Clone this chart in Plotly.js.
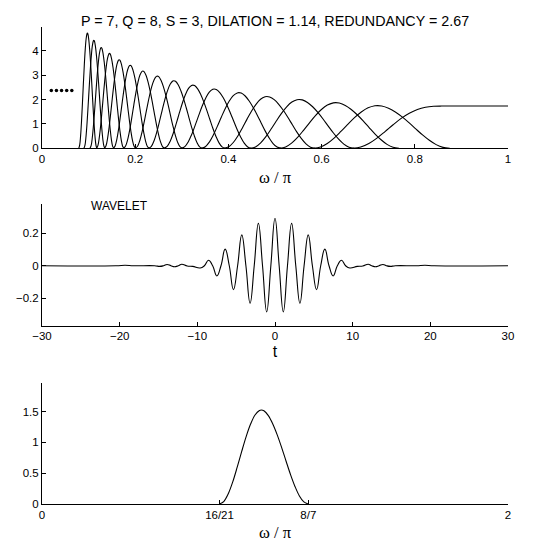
<!DOCTYPE html>
<html>
<head>
<meta charset="utf-8">
<script src="https://cdn.plot.ly/plotly-3.0.1.min.js"></script>
<style>
  html, body { margin: 0; padding: 0; background: #fff; }
  #chart { width: 536px; height: 542px; }
</style>
</head>
<body>
<div id="chart"></div>
<script>
// ---- Filter bank frequency responses (|H(w)| versus w/pi) ----
// Band-pass channels 2..17: support edges and peak gains
const bandStart = [0.583, 0.510, 0.447, 0.391, 0.342, 0.299, 0.262, 0.229, 0.200, 0.175, 0.153, 0.134, 0.117, 0.103, 0.090, 0.079];
const bandEnd   = [0.875, 0.766, 0.670, 0.586, 0.513, 0.449, 0.393, 0.344, 0.301, 0.263, 0.230, 0.201, 0.176, 0.154, 0.135, 0.118];
const bandPeak  = [1.75, 1.87, 2.00, 2.12, 2.28, 2.43, 2.59, 2.77, 2.96, 3.17, 3.40, 3.63, 3.89, 4.13, 4.43, 4.72];

// Normalised band profile shared by every band-pass response (position across the band, relative gain)
const shapeU = [0, 0.05, 0.10, 0.15, 0.20, 0.25, 0.30, 0.35, 0.40, 0.45, 0.47, 0.50, 0.55, 0.60, 0.65, 0.70, 0.75, 0.80, 0.85, 0.90, 0.95, 1];
const shapeV = [0, 0.029, 0.112, 0.238, 0.394, 0.559, 0.717, 0.850, 0.947, 0.995, 1, 0.992, 0.940, 0.851, 0.735, 0.600, 0.455, 0.313, 0.187, 0.086, 0.022, 0];

// High-pass channel (first stage)
const highW = [0.6667, 0.6840, 0.7014, 0.7188, 0.7361, 0.7535, 0.7708, 0.7882, 0.8056, 0.8229, 0.8403, 0.8576, 0.875, 1.0];
const highH = [0, 0.051, 0.196, 0.417, 0.684, 0.965, 1.225, 1.438, 1.591, 1.681, 1.721, 1.731, 1.732, 1.732];

// Ellipsis marking the remaining low-frequency channels
const dotsW = [0.020, 0.031, 0.042, 0.053, 0.064];
const dotsH = [2.37, 2.37, 2.37, 2.37, 2.37];

// ---- Wavelet (time domain): extrema and zero crossings ----
const waveT = [-30, -20.5, -19.3, -18.2, -15.5, -14.85, -14.35, -13.9, -13.4, -12.95, -12.45, -12.0, -11.3, -10.6,
  -9.63, -9.095, -8.56, -8.025, -7.49, -6.955, -6.42, -5.885, -5.35, -4.815, -4.28, -3.745, -3.21, -2.675, -2.14, -1.605, -1.07, -0.535,
  0,
  0.535, 1.07, 1.605, 2.14, 2.675, 3.21, 3.745, 4.28, 4.815, 5.35, 5.885, 6.42, 6.955, 7.49, 8.025, 8.56, 9.095, 9.63,
  10.6, 11.3, 12.0, 12.45, 12.95, 13.4, 13.9, 14.35, 14.85, 15.5, 18.2, 19.3, 20.5, 30];
const waveY = [0, 0, 0.003, 0, 0, -0.004, 0, 0.008, 0, -0.006, 0, 0.009, -0.002, -0.004,
  -0.014, 0, 0.034, 0, -0.063, 0, 0.102, 0, -0.147, 0, 0.190, 0, -0.231, 0, 0.261, 0, -0.284, 0,
  0.292,
  0, -0.284, 0, 0.261, 0, -0.231, 0, 0.190, 0, -0.147, 0, 0.102, 0, -0.063, 0, 0.034, 0, -0.014,
  -0.004, -0.002, 0.009, 0, -0.006, 0, 0.008, 0, -0.004, 0, 0, 0.003, 0, 0];

// ---- Fourier transform of the wavelet ----
const ftStart = 16 / 21;
const ftEnd = 8 / 7;
const ftPeak = 1.527;
const ftTickVals = [0, 16 / 21, 8 / 7, 2];
const ftTickText = ['0', '16/21', '8/7', '2'];

// ---- Traces ----
const lineStyle = { color: '#000', width: 1.1, shape: 'spline', smoothing: 1 };
const traces = [];

bandStart.forEach((a, i) => {
  const b = bandEnd[i];
  traces.push({
    type: 'scatter', mode: 'lines', xaxis: 'x', yaxis: 'y',
    x: shapeU.map(u => a + u * (b - a)),
    y: shapeV.map(v => v * bandPeak[i]),
    line: lineStyle, hoverinfo: 'skip'
  });
});

traces.push({
  type: 'scatter', mode: 'lines', xaxis: 'x', yaxis: 'y',
  x: highW, y: highH, line: lineStyle, hoverinfo: 'skip'
});

traces.push({
  type: 'scatter', mode: 'markers', xaxis: 'x', yaxis: 'y',
  x: dotsW, y: dotsH, marker: { color: '#000', size: 3.5 }, hoverinfo: 'skip'
});

traces.push({
  type: 'scatter', mode: 'lines', xaxis: 'x2', yaxis: 'y2',
  x: waveT, y: waveY,
  line: { color: '#000', width: 1.1, shape: 'spline', smoothing: 1.3 }, hoverinfo: 'skip'
});

traces.push({
  type: 'scatter', mode: 'lines', xaxis: 'x3', yaxis: 'y3',
  x: shapeU.map(u => ftStart + u * (ftEnd - ftStart)),
  y: shapeV.map(v => v * ftPeak),
  line: lineStyle, hoverinfo: 'skip'
});

// ---- Layout ----
const tickFont = { family: 'Liberation Sans, Arial, sans-serif', size: 11.5, color: '#000' };
const omegaTitle = { text: 'ω / π', font: { family: 'Liberation Serif, Times New Roman, serif', size: 16.5, color: '#000' }, standoff: 7 };
const axisBase = {
  showline: true, linecolor: '#000', linewidth: 1,
  ticks: 'inside', ticklen: 4, tickwidth: 1, tickcolor: '#000',
  showgrid: false, zeroline: false, tickfont: tickFont, automargin: false
};

const layout = {
  width: 536, height: 542,
  paper_bgcolor: '#fff', plot_bgcolor: '#fff',
  margin: { l: 42, r: 28, t: 27, b: 38 },
  showlegend: false,
  title: {
    text: 'P = 7, Q = 8, S = 3, DILATION = 1.14, REDUNDANCY = 2.67',
    font: { family: 'Liberation Sans, Arial, sans-serif', size: 14.3, color: '#000' },
    x: 0.5, xref: 'paper', xanchor: 'center',
    y: 0.962, yref: 'container', yanchor: 'middle'
  },
  xaxis: Object.assign({}, axisBase, {
    domain: [0, 1], anchor: 'y', range: [0, 1],
    tickvals: [0, 0.2, 0.4, 0.6, 0.8, 1], ticktext: ['0', '0.2', '0.4', '0.6', '0.8', '1'],
    title: omegaTitle
  }),
  yaxis: Object.assign({}, axisBase, {
    domain: [0.7457, 1], anchor: 'x', range: [0, 4.97],
    tickvals: [0, 1, 2, 3, 4]
  }),
  xaxis2: Object.assign({}, axisBase, {
    domain: [0, 1], anchor: 'y2', range: [-30, 30],
    tickvals: [-30, -20, -10, 0, 10, 20, 30], ticktext: ['\u221230', '\u221220', '\u221210', '0', '10', '20', '30'],
    title: { text: 't', font: { family: 'Liberation Sans, Arial, sans-serif', size: 16, color: '#000' }, standoff: 4 }
  }),
  yaxis2: Object.assign({}, axisBase, {
    domain: [0.3738, 0.6289], anchor: 'x2', range: [-0.369, 0.38],
    tickvals: [-0.2, 0, 0.2], ticktext: ['\u22120.2', '0', '0.2']
  }),
  xaxis3: Object.assign({}, axisBase, {
    domain: [0, 1], anchor: 'y3', range: [0, 2],
    tickvals: ftTickVals, ticktext: ftTickText,
    title: omegaTitle
  }),
  yaxis3: Object.assign({}, axisBase, {
    domain: [0, 0.2543], anchor: 'x3', range: [0, 1.97],
    tickvals: [0, 0.5, 1, 1.5], ticktext: ['0', '0.5', '1', '1.5']
  }),
  annotations: [
    {
      text: 'WAVELET', xref: 'x2', yref: 'y2', x: -24, y: 0.367,
      xanchor: 'left', yanchor: 'middle', showarrow: false,
      font: { family: 'Liberation Sans, Arial, sans-serif', size: 12, color: '#000' }
    },
    {
      text: 'FOURIER TRANSFORM OF WAVELET', xref: 'x3', yref: 'y3', x: 0.2, y: 1.975,
      xanchor: 'left', yanchor: 'middle', showarrow: false,
      font: { family: 'Liberation Sans, Arial, sans-serif', size: 12, color: '#000' }
    }
  ]
};

Plotly.newPlot('chart', traces, layout, { staticPlot: true, displayModeBar: false });
</script>
</body>
</html>
